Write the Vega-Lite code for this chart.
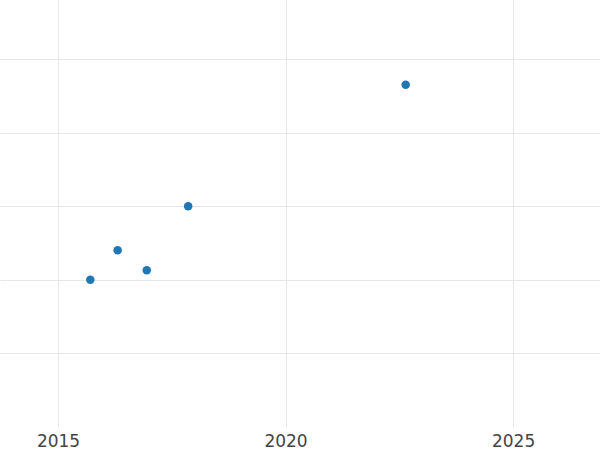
{
  "$schema": "https://vega.github.io/schema/vega-lite/v6.json",
  "width": 600,
  "height": 427,
  "autosize": "none",
  "padding": {"left": 0, "top": 0, "right": 0, "bottom": 23},
  "background": "white",
  "config": {
    "view": {"stroke": null},
    "axis": {"gridColor": "#e8e8e8", "gridWidth": 1, "labelFont": "DejaVu Sans", "labelColor": "#444444", "labelFontSize": 17, "domain": false, "ticks": false}
  },
  "data": {
    "values": [
      {"year": 2015.71, "value": 2.0},
      {"year": 2016.31, "value": 2.4},
      {"year": 2016.95, "value": 2.13},
      {"year": 2017.86, "value": 3.0},
      {"year": 2022.64, "value": 4.65}
    ]
  },
  "mark": {"type": "point", "filled": true, "opacity": 1, "size": 72, "color": "#1f77b4"},
  "encoding": {
    "x": {
      "field": "year", "type": "quantitative",
      "scale": {"domain": [2013.725, 2026.91], "nice": false, "zero": false},
      "axis": {"title": null, "values": [2015, 2020, 2025], "format": "d", "labelPadding": 6, "labelFlush": false}
    },
    "y": {
      "field": "value", "type": "quantitative",
      "scale": {"domain": [0, 5.8], "nice": false, "zero": false},
      "axis": {"title": null, "values": [1, 2, 3, 4, 5], "labels": false}
    }
  }
}
